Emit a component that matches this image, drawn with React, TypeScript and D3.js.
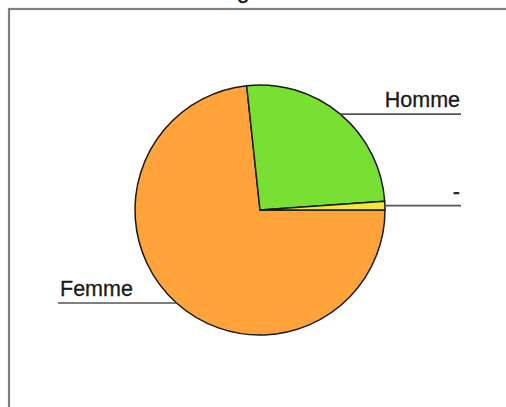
import React from "react";
import * as d3 from "d3";

const labels = ["Femme", "Homme", "-"];
const values = [73.3, 25.6, 1.1];
const colors = ["#FFA33A", "#77E033", "#F5E63C"];
const title = "Par genre";

const W = 506;
const H = 407;
const cx = 260;
const cy = 210;
const r = 125;
const rightX = 461;
const leftX = 58;

export default function App() {
  const data = labels.map((l, i) => ({ label: l, value: values[i], color: colors[i] }));
  const pie = d3
    .pie<any>()
    .sort(null)
    .value((d: any) => d.value)
    .startAngle(Math.PI / 2)
    .endAngle(Math.PI / 2 + 2 * Math.PI);
  const arcs = pie(data);
  const arc = d3.arc<any>().innerRadius(0).outerRadius(r);

  return (
    <svg
      width={W}
      height={H}
      style={{ position: "absolute", left: 0, top: 0, background: "#fff" }}
      fontFamily="'Liberation Sans', Arial, sans-serif"
    >
      <rect x={9} y={9} width={W + 20} height={H + 20} fill="#fff" stroke="#808080" strokeWidth={2.2} />
      <text x={245} y={-2} textAnchor="middle" fontSize={23} fill="#111" stroke="#111" strokeWidth={0.4}>
        {title}
      </text>
      <g transform={`translate(${cx},${cy})`}>
        {arcs.map((a, i) => (
          <path key={i} d={arc(a) as string} fill={a.data.color} stroke="#1a1a1a" strokeWidth={1.5} strokeLinejoin="round" />
        ))}
      </g>
      {arcs.map((a, i) => {
        const m = (a.startAngle + a.endAngle) / 2;
        const px = cx + r * Math.sin(m);
        const py = cy - r * Math.cos(m);
        const right = Math.sin(m) >= 0;
        const ex = right ? rightX : leftX;
        return (
          <g key={"l" + i}>
            <line x1={px} y1={py} x2={ex} y2={py} stroke="#555" strokeWidth={1.7} />
            <text
              x={right ? ex - 1 : ex + 2}
              y={py - 7}
              textAnchor={right ? "end" : "start"}
              fontSize={21.5}
              fill="#1a1a1a"
              stroke="#1a1a1a"
              strokeWidth={0.3}
            >
              {a.data.label}
            </text>
          </g>
        );
      })}
    </svg>
  );
}
